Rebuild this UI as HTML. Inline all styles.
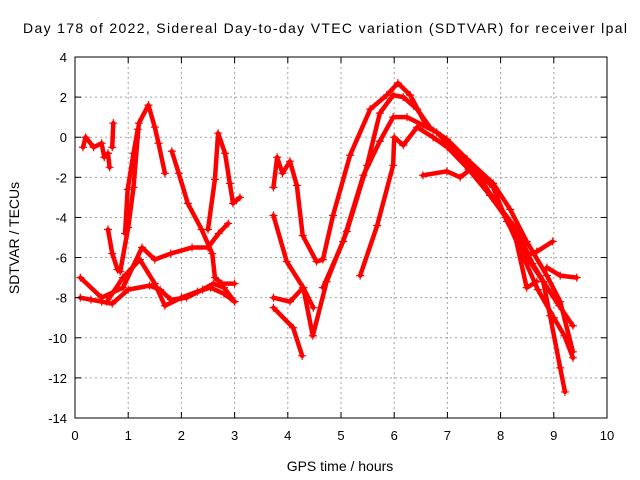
<!DOCTYPE html>
<html><head><meta charset="utf-8"><style>
body{margin:0;background:#fff;}
svg{display:block;font-family:"Liberation Sans",sans-serif;}
</style></head><body>
<svg id="chart" width="640" height="480">
<text x="23" y="33" font-size="14" textLength="604" lengthAdjust="spacing">Day 178 of 2022, Sidereal Day-to-day VTEC variation (SDTVAR) for receiver lpal</text>
<text x="340" y="471" font-size="14" text-anchor="middle">GPS time / hours</text>
<text transform="translate(19,238) rotate(-90)" font-size="14" text-anchor="middle">SDTVAR / TECUs</text>
<g id="grid"></g><g id="series"></g><g id="axes"></g>
</svg>
<script>
const xTicks=[0,1,2,3,4,5,6,7,8,9,10];
const yTicks=[4,2,0,-2,-4,-6,-8,-10,-12,-14];
const trackA_t=[0.1,0.3,0.5,0.7,1.0,1.4,1.6,1.8,2.1,2.4,2.6,2.8,3.0];
const trackA_v=[-8.0,-8.1,-8.2,-8.3,-7.6,-7.4,-7.6,-8.1,-8.0,-7.6,-7.3,-7.5,-8.2];
const trackB_t=[0.6,0.9,1.22,1.5,1.69,2.0,2.3,2.55,2.8,3.0];
const trackB_v=[-8.2,-7.0,-6.1,-7.3,-8.4,-8.0,-7.7,-7.5,-7.8,-8.2];
const trackC_t=[0.1,0.5,0.9,1.26,1.5,1.8,2.2,2.5,2.7,2.88];
const trackC_v=[-7.0,-8.0,-7.5,-5.5,-6.1,-5.8,-5.5,-5.5,-4.8,-4.3];
const trackD_t=[0.85,1.0,1.1,1.2,1.38,1.5,1.57,1.69];
const trackD_v=[-6.7,-4.5,-2.5,0.7,1.6,0.5,-0.3,-1.8];
const trackE_t=[1.82,1.95,2.12,2.38,2.58,2.63,2.76,3.0];
const trackE_v=[-0.7,-1.8,-3.3,-4.6,-5.8,-7.0,-7.3,-7.3];
const trackF_t=[2.5,2.63,2.69,2.82,2.91,2.97,3.1];
const trackF_v=[-4.6,-2.1,0.2,-0.8,-2.3,-3.3,-3.0];
const trackG_t=[0.15,0.2,0.35,0.5,0.55,0.62,0.65];
const trackG_v=[-0.5,0.0,-0.5,-0.3,-1.0,-0.8,-1.5];
const trackH_t=[0.62,0.7,0.8];
const trackH_v=[-4.6,-5.8,-6.6];
const trackI_t=[0.94,0.99,1.1,1.18];
const trackI_v=[-4.8,-2.6,-0.8,0.4];
const trackJ_t=[0.7,0.72];
const trackJ_v=[-0.5,0.7];
const trackK_t=[3.73,3.8,3.9,4.04,4.17,4.28,4.54,4.66,4.85,5.17,5.55,5.86,6.07,6.3,6.6,6.99,7.37,7.86,8.18,8.49,8.87,9.12,9.36];
const trackK_v=[-2.5,-1.0,-1.8,-1.2,-2.4,-4.9,-6.2,-6.1,-3.9,-0.9,1.4,2.1,2.7,2.1,0.6,-0.1,-1.1,-2.3,-3.6,-5.2,-6.9,-8.2,-10.7];
const trackL_t=[3.73,3.98,4.29,4.48];
const trackL_v=[-3.9,-6.2,-7.5,-8.5];
const trackM_t=[3.73,4.1,4.27];
const trackM_v=[-8.5,-9.5,-10.9];
const trackN_t=[3.73,4.04,4.29,4.47,4.73,5.11,5.49,5.73,5.98,6.17,6.43,6.67];
const trackN_v=[-8.0,-8.2,-7.5,-9.9,-7.2,-4.7,-1.4,1.2,2.1,2.0,1.4,0.5];
const trackO_t=[4.66,5.04,5.42,5.73,5.98,6.24,6.54,6.8,7.1,7.5,7.9,8.3,8.6,8.9,9.1,9.36];
const trackO_v=[-7.5,-5.2,-1.9,-0.2,1.0,1.0,0.6,0.25,-0.6,-1.6,-3.2,-4.6,-6.3,-7.6,-8.4,-9.4];
const trackP_t=[5.36,5.68,5.98,6.0,6.17,6.43,6.73,7.0,7.4,7.8,8.1,8.4,8.7,9.0,9.2,9.36];
const trackP_v=[-6.9,-4.4,-1.4,0.0,-0.4,0.5,0.0,-0.5,-1.6,-2.9,-4.0,-5.8,-7.6,-9.0,-9.9,-11.0];
const trackQ_t=[6.54,6.99,7.24,7.48,7.86,8.12,8.49,8.68,8.98];
const trackQ_v=[-1.9,-1.7,-2.0,-1.5,-2.5,-4.2,-5.9,-5.7,-5.2];
const trackR_t=[8.5,8.8,8.93,9.12,9.21];
const trackR_v=[-6.0,-7.2,-8.9,-11.5,-12.7];
const trackS_t=[8.23,8.49,8.68];
const trackS_v=[-4.4,-7.5,-7.2];
const trackT_t=[8.87,9.12,9.43];
const trackT_v=[-6.5,-6.9,-7.0];
const tracks=[[trackA_t,trackA_v],[trackB_t,trackB_v],[trackC_t,trackC_v],[trackD_t,trackD_v],[trackE_t,trackE_v],[trackF_t,trackF_v],[trackG_t,trackG_v],[trackH_t,trackH_v],[trackI_t,trackI_v],[trackJ_t,trackJ_v],[trackK_t,trackK_v],[trackL_t,trackL_v],[trackM_t,trackM_v],[trackN_t,trackN_v],[trackO_t,trackO_v],[trackP_t,trackP_v],[trackQ_t,trackQ_v],[trackR_t,trackR_v],[trackS_t,trackS_v],[trackT_t,trackT_v]];

const X0=75,X1=607,Y0=57,Y1=418;
const xs=t=>X0+(t-0)/10*(X1-X0);
const ys=v=>Y0+(4-v)/18*(Y1-Y0);
const NS="http://www.w3.org/2000/svg";
function mk(tag,attrs,parent){const e=document.createElementNS(NS,tag);for(const k in attrs)e.setAttribute(k,attrs[k]);parent.appendChild(e);return e;}
const grid=document.getElementById('grid'),axes=document.getElementById('axes'),ser=document.getElementById('series');
xTicks.forEach(t=>{const x=xs(t);
 if(t>0&&t<10){const g=mk('line',{x1:x,x2:x,y1:Y0,y2:Y1,stroke:'#a0a0a0','stroke-dasharray':'2,3'},grid);
 
 }
 mk('line',{x1:x,x2:x,y1:Y1,y2:Y1-6,stroke:'#000'},axes);
 mk('line',{x1:x,x2:x,y1:Y0,y2:Y0+6,stroke:'#000'},axes);
 const l=mk('text',{x:x,y:Y1+22,'font-size':13,'text-anchor':'middle'},axes);l.textContent=t;
 
 });
yTicks.forEach(v=>{const y=ys(v);
 if(v<4&&v>-14){const g=mk('line',{x1:X0,x2:X1,y1:y,y2:y,stroke:'#a0a0a0','stroke-dasharray':'2,3'},grid);
 
 }
 mk('line',{x1:X0,x2:X0+6,y1:y,y2:y,stroke:'#000'},axes);
 mk('line',{x1:X1,x2:X1-6,y1:y,y2:y,stroke:'#000'},axes);
 const l=mk('text',{x:X0-8,y:y+5,'font-size':13,'text-anchor':'end'},axes);l.textContent=v;
 
 });
const fr=mk('rect',{x:X0,y:Y0,width:X1-X0,height:Y1-Y0,fill:'none',stroke:'#000'},axes);


tracks.forEach((tr,i)=>{const [T,V]=tr;
 const pts=T.map((t,j)=>xs(t)+','+ys(V[j])).join(' ');
 const pl=mk('polyline',{points:pts,fill:'none',stroke:'#ff0000','stroke-width':4.5,'stroke-linejoin':'round','stroke-linecap':'round'},ser);
 
 
 T.forEach((t,j)=>{const x=xs(t),y=ys(V[j]);
  const p=mk('path',{d:`M${x-4},${y}h8M${x},${y-4}v8`,stroke:'#ff0000','stroke-width':1.2},ser);
  
  });
});
</script>
</body></html>
